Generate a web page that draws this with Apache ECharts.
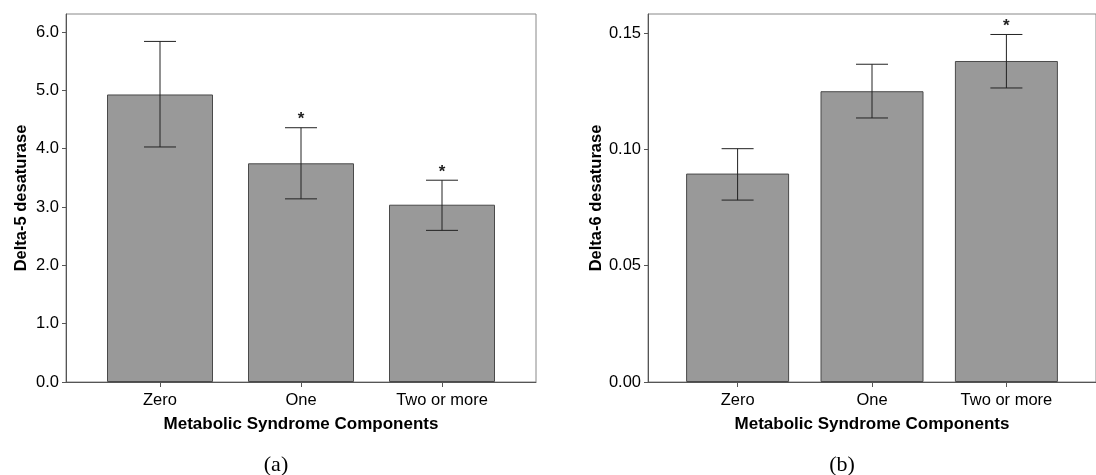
<!DOCTYPE html>
<html>
<head>
<meta charset="utf-8">
<script src="https://cdn.jsdelivr.net/npm/echarts@6/dist/echarts.min.js"></script>
<style>
html,body{margin:0;padding:0;background:#fff;}
#chart{width:1096px;height:475px;}
</style>
</head>
<body>
<div id="chart"></div>
<script>
// ---- data ----
var categories = ['Zero', 'One', 'Two or more'];
var catPos = [0, 1, 2];

var d5Mean = [4.93, 3.75, 3.04];
var d5Low  = [4.03, 3.14, 2.60];
var d5High = [5.84, 4.36, 3.46];
var d5Sig  = [false, true, true];
var d5Ticks = [0, 1, 2, 3, 4, 5, 6];

var d6Mean = [0.0896, 0.125, 0.138];
var d6Low  = [0.0782, 0.1135, 0.1264];
var d6High = [0.1003, 0.1366, 0.1494];
var d6Sig  = [false, false, true];
var d6Ticks = [0, 0.05, 0.10, 0.15];

var yNames = ['Delta-5 desaturase', 'Delta-6 desaturase'];
var xName = 'Metabolic Syndrome Components';
var panelLabels = ['(a)', '(b)'];

// ---- helpers ----
var FONT = 'Liberation Sans, Arial, sans-serif';
var AXIS_COLOR = '#555';
var BAR_COLOR = '#999999';

function barData(means) {
  return means.map(function (v, i) { return [catPos[i], v]; });
}
function errData(low, high, sig) {
  return low.map(function (v, i) { return [catPos[i], v, high[i], sig[i] ? 1 : 0]; });
}
function renderErr(params, api) {
  var x = api.value(0);
  var lo = api.coord([x, api.value(1)]);
  var hi = api.coord([x, api.value(2)]);
  var half = 16;
  var st = { stroke: '#222', lineWidth: 1 };
  var children = [
    { type: 'line', shape: { x1: lo[0], y1: lo[1], x2: hi[0], y2: hi[1] }, style: st },
    { type: 'line', shape: { x1: hi[0] - half, y1: hi[1], x2: hi[0] + half, y2: hi[1] }, style: st },
    { type: 'line', shape: { x1: lo[0] - half, y1: lo[1], x2: lo[0] + half, y2: lo[1] }, style: st }
  ];
  if (api.value(3)) {
    children.push({
      type: 'text',
      style: { text: '*', x: hi[0], y: hi[1] - 8, align: 'center', verticalAlign: 'middle',
               fontSize: 17, fontWeight: 'bold', fontFamily: FONT, fill: '#222' }
    });
  }
  return { type: 'group', children: children };
}

function xAxisDef(gi) {
  return {
    type: 'value', gridIndex: gi, min: -2 / 3, max: 8 / 3,
    name: xName, nameLocation: 'middle', nameGap: 34,
    nameTextStyle: { fontFamily: FONT, fontSize: 17, fontWeight: 'bold', color: '#000' },
    axisLine: { show: true, onZero: false, lineStyle: { color: AXIS_COLOR, width: 1 } },
    axisTick: { show: true, length: 5, lineStyle: { color: AXIS_COLOR }, customValues: catPos },
    axisLabel: { customValues: catPos, margin: 10, fontFamily: FONT, fontSize: 16.5, color: '#000',
                 formatter: function (v) { return categories[Math.round(v)]; } },
    splitLine: { show: false }
  };
}
function yAxisDef(gi, max, ticks, digits, name) {
  return {
    type: 'value', gridIndex: gi, min: 0, max: max,
    name: name, nameLocation: 'middle', nameGap: 36,
    nameTextStyle: { fontFamily: FONT, fontSize: 16.5, fontWeight: 'bold', color: '#000' },
    axisLine: { show: true, onZero: false, lineStyle: { color: AXIS_COLOR, width: 1 } },
    axisTick: { show: true, length: 4, lineStyle: { color: AXIS_COLOR }, customValues: ticks },
    axisLabel: { customValues: ticks, margin: 7, fontFamily: FONT, fontSize: 16.5, color: '#000',
                 formatter: function (v) { return v.toFixed(digits); } },
    splitLine: { show: false }
  };
}

var chart = echarts.init(document.getElementById('chart'), null, { renderer: 'canvas' });
chart.setOption({
  backgroundColor: '#fff',
  animation: false,
  grid: [
    { left: 66, top: 14, width: 470, height: 368, show: true, borderColor: '#888', borderWidth: 1, backgroundColor: 'transparent' },
    { left: 648, top: 14, width: 458, height: 368, show: true, borderColor: '#888', borderWidth: 1, backgroundColor: 'transparent' }
  ],
  xAxis: [xAxisDef(0), xAxisDef(1)],
  yAxis: [
    yAxisDef(0, 6.31, d5Ticks, 1, yNames[0]),
    yAxisDef(1, 0.1582, d6Ticks, 2, yNames[1])
  ],
  title: [
    { text: panelLabels[0], left: 271, top: 449, textAlign: 'center',
      textStyle: { fontFamily: 'Liberation Serif, serif', fontSize: 22, fontWeight: 'normal', color: '#000' } },
    { text: panelLabels[1], left: 837, top: 449, textAlign: 'center',
      textStyle: { fontFamily: 'Liberation Serif, serif', fontSize: 22, fontWeight: 'normal', color: '#000' } }
  ],
  series: [
    { type: 'bar', xAxisIndex: 0, yAxisIndex: 0, barWidth: 106, data: barData(d5Mean),
      itemStyle: { color: BAR_COLOR, borderColor: '#4a4a4a', borderWidth: 1 }, silent: true },
    { type: 'custom', xAxisIndex: 0, yAxisIndex: 0, data: errData(d5Low, d5High, d5Sig), renderItem: renderErr, silent: true, z: 5 },
    { type: 'bar', xAxisIndex: 1, yAxisIndex: 1, barWidth: 103, data: barData(d6Mean),
      itemStyle: { color: BAR_COLOR, borderColor: '#4a4a4a', borderWidth: 1 }, silent: true },
    { type: 'custom', xAxisIndex: 1, yAxisIndex: 1, data: errData(d6Low, d6High, d6Sig), renderItem: renderErr, silent: true, z: 5 }
  ]
});
</script>
</body>
</html>
